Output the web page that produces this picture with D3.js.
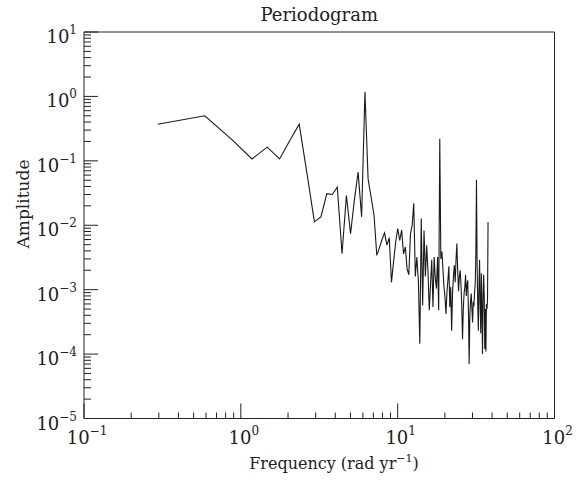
<!DOCTYPE html>
<html>
<head>
<meta charset="utf-8">
<script src="https://cdn.jsdelivr.net/npm/d3@7"></script>
<style>
body { margin: 0; background: #fff; }
text { font-family: "DejaVu Serif", serif; fill: #222; }
</style>
</head>
<body>
<svg id="chart"></svg>
<script>
// frequency (rad/yr), one per periodogram bin
const FREQ = [
    0.295, 0.589, 0.884, 1.178, 1.473, 1.767, 2.062, 2.356, 2.651, 2.945,
    3.240, 3.534, 3.829, 4.123, 4.418, 4.712, 5.007, 5.301, 5.596, 5.890,
    6.185, 6.479, 6.774, 7.068, 7.363, 7.658, 7.952, 8.247, 8.541, 8.836,
    9.130, 9.425, 9.719, 10.014, 10.308, 10.603, 10.897, 11.192, 11.486, 11.781,
    12.075, 12.370, 12.664, 12.959, 13.253, 13.548, 13.842, 14.137, 14.431, 14.726,
    15.021, 15.315, 15.610, 15.904, 16.199, 16.493, 16.788, 17.082, 17.377, 17.671,
    17.966, 18.260, 18.555, 18.849, 19.144, 19.438, 19.733, 20.027, 20.322, 20.616,
    20.911, 21.205, 21.500, 21.794, 22.089, 22.384, 22.678, 22.973, 23.267, 23.562,
    23.856, 24.151, 24.445, 24.740, 25.034, 25.329, 25.623, 25.918, 26.212, 26.507,
    26.801, 27.096, 27.390, 27.685, 27.979, 28.274, 28.568, 28.863, 29.157, 29.452,
    29.747, 30.041, 30.336, 30.630, 30.925, 31.219, 31.514, 31.808, 32.103, 32.397,
    32.692, 32.986, 33.281, 33.575, 33.870, 34.164, 34.459, 34.753, 35.048, 35.342,
    35.637, 35.931, 36.226, 36.520, 36.815, 37.110, 37.404, 37.699
];

const AMP = [
    0.37, 0.50, 0.21, 0.107, 0.163, 0.107, 0.21, 0.37, 0.06, 0.0113,
    0.0135, 0.031, 0.030, 0.039, 0.0036, 0.029, 0.0074, 0.025, 0.067, 0.0135,
    1.18, 0.052, 0.027, 0.0143, 0.0034, 0.0045, 0.0060, 0.0076, 0.0049, 0.0064,
    0.0013, 0.0028, 0.0055, 0.0089, 0.0058, 0.0084, 0.0036, 0.0046, 0.0021, 0.0017,
    0.0074, 0.010, 0.022, 0.0016, 0.0032, 0.0014, 0.000145, 0.0127, 0.00057, 0.0083,
    0.0016, 0.0049, 0.0019, 0.00048, 0.0012, 0.0029, 0.00054, 0.0032, 0.0015, 0.00104,
    0.0032, 0.00048, 0.22, 0.0030, 0.0039, 0.0021, 0.0011, 0.00077, 0.00042, 0.00092,
    0.0014, 0.0023, 0.00054, 0.0011, 0.00023, 0.0009, 0.0016, 0.0024, 0.0013, 0.0030,
    0.0052, 0.0019, 0.00095, 0.0016, 0.0020, 0.0012, 0.00055, 0.00017, 0.0005, 0.00087,
    0.0011, 0.0017, 0.0008, 0.0012, 0.0014, 0.00045, 0.00007, 0.0004, 0.00068, 0.00087,
    0.0005, 0.00031, 0.00065, 0.00055, 0.0009, 0.0012, 0.0035, 0.051, 0.0025, 0.0006,
    0.00023, 0.0011, 0.0029, 0.0006, 0.00021, 0.0018, 0.0005, 0.0001, 0.0008, 0.0017,
    0.0008, 0.00012, 0.0005, 0.00011, 0.0006, 0.0005, 0.0007, 0.0112
];

const X_DECADES = [-1, 0, 1, 2];
const Y_DECADES = [-5, -4, -3, -2, -1, 0, 1];

const WIDTH = 585;
const HEIGHT = 480;
const LEFT = 84;
const RIGHT = 554.5;
const TOP = 32;
const BOTTOM = 418.5;

window.onload = function(){
    drawChart();
};

function supLabel(sel, d, big, small, up){
    sel.append("tspan").attr("font-size", big + "px").text("10");
    sel.append("tspan").attr("font-size", small + "px").attr("dy", -up)
        .text(d < 0 ? "\u2212" + (-d) : String(d));
}

function drawChart(){

    let xScale = d3.scaleLog()
        .domain([0.1, 100])
        .range([LEFT, RIGHT]);

    let yScale = d3.scaleLog()
        .domain([1e-5, 10])
        .range([BOTTOM, TOP]);

    let svg = d3.select("#chart")
        .attr("width", WIDTH)
        .attr("height", HEIGHT);

    let xMajor = X_DECADES.map(function(d){ return Math.pow(10, d); });
    let yMajor = Y_DECADES.map(function(d){ return Math.pow(10, d); });
    let xMinor = xScale.ticks().filter(function(v){ return xMajor.indexOf(v) < 0; });
    let yMinor = yScale.ticks().filter(function(v){ return yMajor.indexOf(v) < 0; });

    // frame
    svg.append("line").attr("x1", LEFT).attr("x2", RIGHT).attr("y1", TOP).attr("y2", TOP)
        .attr("stroke", "#222");
    svg.append("line").attr("x1", LEFT).attr("x2", LEFT).attr("y1", TOP).attr("y2", BOTTOM)
        .attr("stroke", "#222");
    svg.append("line").attr("x1", RIGHT).attr("x2", RIGHT).attr("y1", TOP).attr("y2", BOTTOM)
        .attr("stroke", "#222");
    svg.append("line").attr("x1", LEFT).attr("x2", RIGHT).attr("y1", BOTTOM).attr("y2", BOTTOM)
        .attr("stroke", "#222");

    // y ticks (inside, left)
    svg.selectAll("line.ymaj")
        .data(yMajor)
        .enter()
        .append("line")
        .attr("x1", LEFT).attr("x2", LEFT + 14)
        .attr("y1", function(d){ return yScale(d); })
        .attr("y2", function(d){ return yScale(d); })
        .attr("stroke", "#222");
    svg.selectAll("line.ymin")
        .data(yMinor)
        .enter()
        .append("line")
        .attr("x1", LEFT).attr("x2", LEFT + 7)
        .attr("y1", function(d){ return yScale(d); })
        .attr("y2", function(d){ return yScale(d); })
        .attr("stroke", "#222");

    // x ticks (inside, bottom)
    svg.selectAll("line.xmaj")
        .data(xMajor)
        .enter()
        .append("line")
        .attr("x1", function(d){ return xScale(d); })
        .attr("x2", function(d){ return xScale(d); })
        .attr("y1", BOTTOM).attr("y2", BOTTOM - 15)
        .attr("stroke", "#222");
    svg.selectAll("line.xmin")
        .data(xMinor)
        .enter()
        .append("line")
        .attr("x1", function(d){ return xScale(d); })
        .attr("x2", function(d){ return xScale(d); })
        .attr("y1", BOTTOM).attr("y2", BOTTOM - 6)
        .attr("stroke", "#222");

    // tick labels
    svg.selectAll("text.ylab")
        .data(Y_DECADES)
        .enter()
        .append("text")
        .attr("x", 77)
        .attr("y", function(d){ return yScale(Math.pow(10, d)) + 11; })
        .attr("text-anchor", "end")
        .each(function(d){ supLabel(d3.select(this), d, 18, 12, 9); });

    svg.selectAll("text.xlab")
        .data(X_DECADES)
        .enter()
        .append("text")
        .attr("x", function(d){ return xScale(Math.pow(10, d)) + 3; })
        .attr("y", 444)
        .attr("text-anchor", "middle")
        .each(function(d){ supLabel(d3.select(this), d, 18, 12, 9); });

    // data line
    let line = d3.line()
        .x(function(d, i){ return xScale(FREQ[i]); })
        .y(function(d){ return yScale(d); });

    svg.append("path")
        .datum(AMP)
        .attr("d", line)
        .attr("fill", "none")
        .attr("stroke", "#1a1a1a")
        .attr("stroke-width", 1.1);

    // titles
    svg.append("text")
        .attr("x", (LEFT + RIGHT) / 2)
        .attr("y", 21)
        .attr("text-anchor", "middle")
        .attr("font-size", "18px")
        .text("Periodogram");

    let xl = svg.append("text")
        .attr("x", 334)
        .attr("y", 469)
        .attr("text-anchor", "middle")
        .attr("font-size", "16px");
    xl.append("tspan").text("Frequency (rad yr");
    xl.append("tspan").attr("font-size", "11px").attr("dy", -7).text("\u22121");
    xl.append("tspan").attr("dy", 7).text(")");

    svg.append("text")
        .attr("transform", "translate(29,204) rotate(-90)")
        .attr("text-anchor", "middle")
        .attr("font-size", "17px")
        .text("Amplitude");
}
</script>
</body>
</html>
